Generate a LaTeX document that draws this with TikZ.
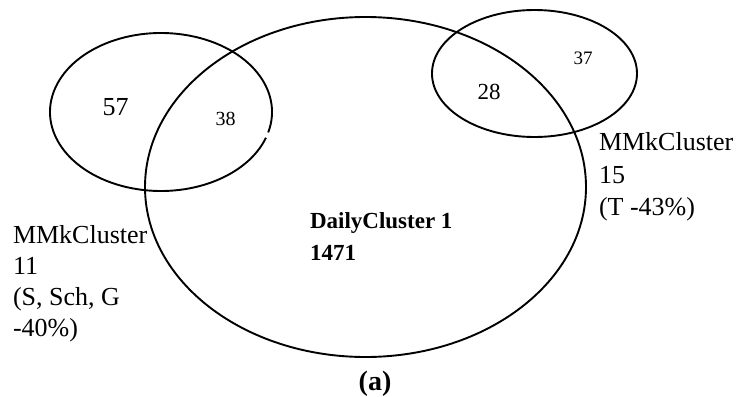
\documentclass[tikz,border=0pt]{standalone}
\usepackage{fontspec}
\setmainfont{Liberation Serif}
\tikzset{
  venn/.style={draw=black, line width=1.9bp},
  lbl/.style={inner sep=0pt, outer sep=0pt},
}
\newcommand{\fs}[2]{\fontsize{#1bp}{#2bp}\selectfont}
\begin{document}
\begin{tikzpicture}[x=1bp,y=1bp]
\useasboundingbox (0,0) rectangle (736,396);
% big ellipse
\draw[venn] (365.5,209) ellipse [x radius=220.5, y radius=170];
% top-right ellipse
\draw[venn] (534.5,322.5) ellipse [x radius=102.5, y radius=63.5];
% left ellipse with small gap
\draw[venn] ([shift={(-15:111 and 79)}]161,284) arc[start angle=-15, end angle=341, x radius=111, y radius=79];
% numbers
\node[lbl, anchor=base] (n57) at (115.5,281) {\fs{26}{30}57};
\node[lbl, anchor=base] (n38) at (225.5,271) {\fs{20}{24}38};
\node[lbl, anchor=base] (n28) at (489,297) {\fs{23}{28}28};
\node[lbl, anchor=base] (n37) at (583,332) {\fs{19}{23}37};
% main label
\node[lbl, anchor=base west] (dc1) at (310,168) {\fs{23}{32}\bfseries DailyCluster 1};
\node[lbl, anchor=base west] (dc2) at (310,136) {\fs{23}{32}\bfseries 1471};
% left label
\node[lbl, anchor=base west] (l1) at (13,153) {\fs{26}{31}MMkCluster};
\node[lbl, anchor=base west] (l2) at (13,122) {\fs{26}{31}11};
\node[lbl, anchor=base west] (l3) at (13,91) {\fs{26}{31}(S, Sch, G};
\node[lbl, anchor=base west] (l4) at (13,59.5) {\fs{26}{31}-40\%)};
% right label
\node[lbl, anchor=base west] (r1) at (599,246) {\fs{26}{31}MMkCluster};
\node[lbl, anchor=base west] (r2) at (599,213) {\fs{26}{31}15};
\node[lbl, anchor=base west] (r3) at (599,181) {\fs{26}{31}(T -43\%)};
% caption
\node[lbl, anchor=base] (cap) at (375,6) {\fs{28}{32}\bfseries (a)};
\end{tikzpicture}
\end{document}
